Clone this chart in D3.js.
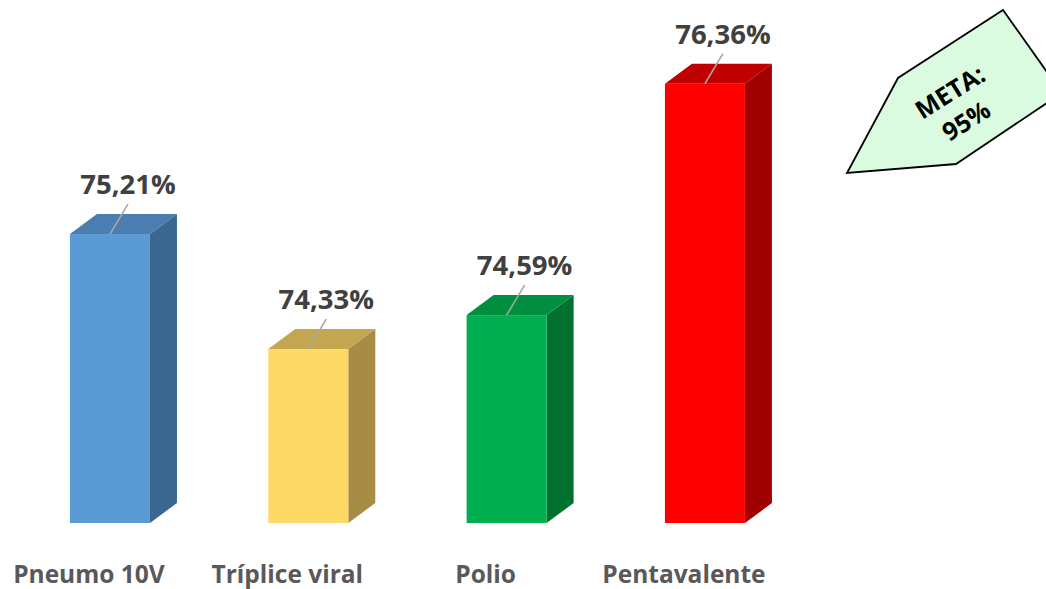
<html>
<head>
<script src="https://d3js.org/d3.v7.min.js"></script>
<style>
  body { margin: 0; background: #fff; overflow: hidden; }
  svg { display: block; }
  text { font-family: "Open Sans", sans-serif; font-weight: bold; }
</style>
</head>
<body>
<svg width="1046" height="589"></svg>
<script>
// data
var categories = ["Pneumo 10V", "Tríplice viral", "Polio", "Pentavalente"];
var values = [75.21, 74.33, 74.59, 76.36];
var labels = ["75,21%", "74,33%", "74,59%", "76,36%"];
var metaText = ["META:", "95%"];

// colours front / top / side
var front = ["#5b9bd5", "#ffd966", "#00b050", "#ff0000"];
var top_ = ["#4a7db0", "#c4a650", "#008f3f", "#c00000"];
var side = ["#3b6690", "#a68c44", "#00712f", "#a00000"];

var svg = d3.select("svg");

var x = d3.scaleBand()
    .domain(categories)
    .range([10.8, 804.1])
    .paddingInner(0.5966)
    .paddingOuter(0.2983);

var y = d3.scaleLinear().domain([73, 77]).range([523, 0]);

var dx = 27, dy = -20; // 3d depth

var bars = svg.selectAll(".bar")
  .data(values)
  .enter().append("g")
    .attr("class", "bar");

// side face
bars.append("path")
    .attr("d", function(d, i) {
      var x1 = x(categories[i]) + x.bandwidth(), y0 = y(73), y1 = y(d);
      return "M" + x1 + "," + y1 + "L" + (x1 + dx) + "," + (y1 + dy) +
             "L" + (x1 + dx) + "," + (y0 + dy) + "L" + x1 + "," + y0 + "Z";
    })
    .style("fill", function(d, i) { return side[i]; });

// top face
bars.append("path")
    .attr("d", function(d, i) {
      var x0 = x(categories[i]), x1 = x0 + x.bandwidth(), y1 = y(d);
      return "M" + x0 + "," + y1 + "L" + (x0 + dx) + "," + (y1 + dy) +
             "L" + (x1 + dx) + "," + (y1 + dy) + "L" + x1 + "," + y1 + "Z";
    })
    .style("fill", function(d, i) { return top_[i]; });

// front face
bars.append("rect")
    .attr("x", function(d, i) { return x(categories[i]); })
    .attr("y", function(d) { return y(d); })
    .attr("width", x.bandwidth())
    .attr("height", function(d) { return y(73) - y(d); })
    .style("fill", function(d, i) { return front[i]; });

// leader lines
bars.append("line")
    .attr("x1", function(d, i) { return x(categories[i]) + x.bandwidth() / 2 + 18; })
    .attr("y1", function(d) { return y(d) - 30; })
    .attr("x2", function(d, i) { return x(categories[i]) + x.bandwidth() / 2; })
    .attr("y2", function(d) { return y(d); })
    .style("stroke", "#a6a6a6")
    .style("stroke-width", 1.6);

// value labels
bars.append("text")
    .attr("x", function(d, i) { return x(categories[i]) + x.bandwidth() / 2 + 18; })
    .attr("y", function(d) { return y(d) - 40; })
    .attr("text-anchor", "middle")
    .style("font-size", "27.5px")
    .style("fill", "#404040")
    .text(function(d, i) { return labels[i]; });

// category labels
svg.selectAll(".cat")
  .data(categories)
  .enter().append("text")
    .attr("class", "cat")
    .attr("x", function(d) { return x(d) + x.bandwidth() / 2 - 21; })
    .attr("y", 583)
    .attr("text-anchor", "middle")
    .style("font-size", "24.5px")
    .style("fill", "#595959")
    .text(function(d) { return d; });

// meta callout
var shape = [[1003, 10], [1047, 72], [1047, 103], [956, 164], [847, 173], [898, 78]];
svg.append("path")
    .attr("d", d3.line()(shape) + "Z")
    .style("fill", "#dbfbe0")
    .style("stroke", "#000")
    .style("stroke-width", 1.8);

var meta = svg.append("g").attr("transform", "translate(950,92) rotate(-32)");
meta.selectAll("text")
  .data(metaText)
  .enter().append("text")
    .attr("x", function(d, i) { return i * -1.5; })
    .attr("y", function(d, i) { return 9 + i * 33; })
    .attr("text-anchor", "middle")
    .style("font-size", "25px")
    .style("fill", "#000")
    .text(function(d) { return d; });
</script>
</body>
</html>
